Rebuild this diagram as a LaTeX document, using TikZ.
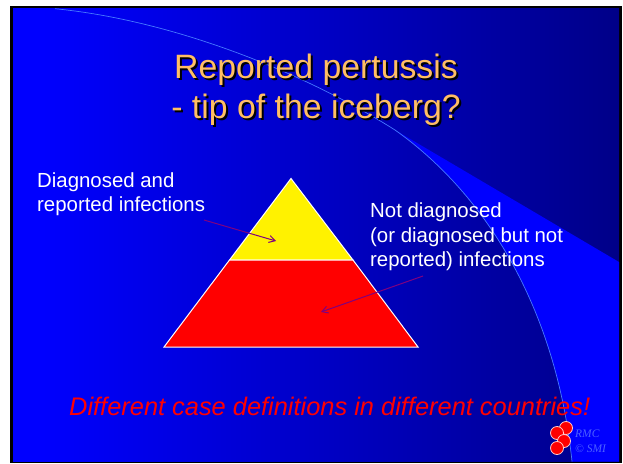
\documentclass[tikz,border=0pt]{standalone}
\usepackage{fontspec}
\setmainfont{Liberation Sans}
\newfontfamily\logofont{Liberation Serif}
\usetikzlibrary{positioning,arrows.meta}
\definecolor{slideblue}{RGB}{0,0,255}
\definecolor{slidenavy}{RGB}{0,0,104}
\definecolor{arcblue}{RGB}{70,120,255}
\definecolor{titlegold}{RGB}{255,190,100}
\definecolor{pointerpurple}{RGB}{128,0,128}
\definecolor{logoblue}{RGB}{75,95,255}
\pgfdeclarehorizontalshading{slidefade}{100bp}{color(0bp)=(slideblue); color(27bp)=(slideblue); color(88bp)=(slidenavy); color(100bp)=(slidenavy)}
\tikzset{
  titletext/.style={anchor=base, font=\fontsize{33.8}{38}\selectfont},
  labeltext/.style={anchor=base west, text=white, inner sep=0pt, font=\fontsize{20.4}{24}\selectfont},
  pointer/.style={draw=pointerpurple, line width=1pt, -{Straight Barb[length=6pt,width=7pt]}},
  logoball/.style={circle, fill=red, draw=white!80!red, line width=0.8pt, minimum size=13pt, inner sep=0pt},
  logotext/.style={anchor=base west, inner sep=0pt, text=logoblue, font=\logofont\itshape\fontsize{11.5}{12}\selectfont},
}
\begin{document}
\begin{tikzpicture}[x=1pt,y=-1pt]
\useasboundingbox (0,0) rectangle (623,463);
\fill[white] (0,0) rectangle (623,463);
\fill[black] (10,6) rectangle (622,463);
\shade[shading=slidefade] (13,8.7) rectangle (619,461.5);
% wedge right of the arc
\fill[slideblue] (395,130) .. controls (480,190) and (555,300) .. (572,461.5) -- (619,461.5) -- (619,262) -- cycle;
\draw[arcblue, line width=0.7pt] (55,8.7) .. controls (170,20) and (300,70) .. (395,130) .. controls (480,190) and (555,300) .. (572,461.5);
% pyramid
\draw[white, line width=1pt, fill=yellow] (291,178.5) -- (353,260) -- (229.5,260) -- cycle;
\draw[white, line width=1pt, fill=red] (229.5,260) -- (353,260) -- (418,347) -- (164,347) -- cycle;
% title
\node[titletext, text=black] at (318,80) {Reported pertussis};
\node[titletext, text=black] at (318,120) {- tip of the iceberg?};
\node[titletext, text=titlegold] (titletop) at (316,78) {Reported pertussis};
\node[titletext, text=titlegold] (titlebottom) at (316,118) {- tip of the iceberg?};
% labels
\node[labeltext] (diagnosedtop) at (37,187) {Diagnosed and};
\node[labeltext] (diagnosedbottom) at (37,211) {reported infections};
\node[labeltext] (notdiagnosedtop) at (370,217) {Not diagnosed};
\node[labeltext] (notdiagnosedmid) at (370,242) {(or diagnosed but not};
\node[labeltext] (notdiagnosedbottom) at (370,266) {reported) infections};
\coordinate (yellowstart) at (204,220);
\coordinate (yellowend) at (276,241);
\coordinate (redstart) at (423,276);
\coordinate (redend) at (321,312);
\draw[pointer] (yellowstart) -- (yellowend);
\draw[pointer] (redstart) -- (redend);
\node[anchor=base west, inner sep=0pt, text=red, font=\itshape\fontsize{25.4}{30}\selectfont] (definitions) at (69,415) {Different case definitions in different countries!};
% logo
\node[logoball] (ballone) at (566,428) {};
\node[logoball] (balltwo) at (557,433) {};
\node[logoball] (ballthree) at (564,441) {};
\node[logoball] (ballfour) at (557,448) {};
\node[logotext] (rmctext) at (575,437) {RMC};
\node[logotext] (smitext) at (575,452) {© SMI};
\end{tikzpicture}
\end{document}
